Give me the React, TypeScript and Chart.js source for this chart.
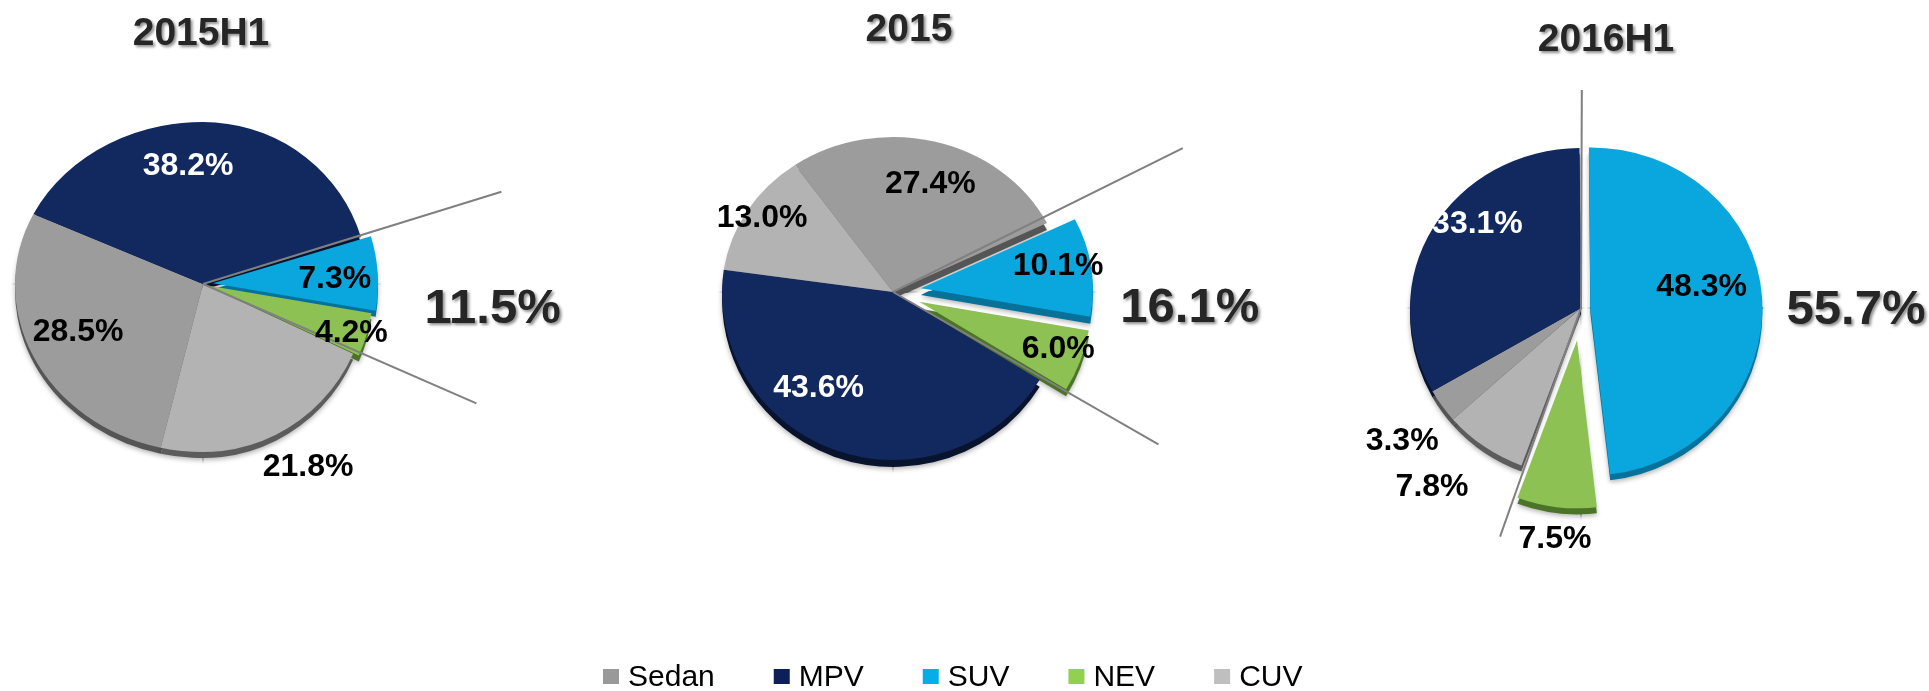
import React, { useEffect, useRef } from 'react';
import { Chart, registerables } from 'chart.js';

Chart.register(...registerables);

// ---------------- data ----------------
const categories = ['Sedan', 'MPV', 'SUV', 'NEV', 'CUV'];
const titles = ['2015H1', '2015', '2016H1'];

const order2015H1 = ['Sedan', 'MPV', 'SUV', 'NEV', 'CUV'];
const values2015H1 = [28.5, 38.2, 7.3, 4.2, 21.8];

const order2015 = ['Sedan', 'SUV', 'NEV', 'MPV', 'CUV'];
const values2015 = [27.4, 10.1, 6.0, 43.6, 13.0];

const order2016H1 = ['SUV', 'NEV', 'CUV', 'Sedan', 'MPV'];
const values2016H1 = [48.3, 7.5, 7.8, 3.3, 33.1];

const highlighted = ['SUV', 'NEV'];
const highlightTotals = [11.5, 16.1, 55.7];

// ---------------- styles ----------------
const sliceColors = ['#9c9c9c', '#12295f', '#0aa7de', '#8dc153', '#b3b3b3'];
const rimColors = ['#555555', '#08132e', '#06729a', '#4c7428', '#5c5c5c'];
const legendColors = ['#999999', '#0c1f5b', '#06aee8', '#92d050', '#bfbfbf'];
const labelColors = ['#000000', '#ffffff', '#000000', '#000000', '#000000'];

const W = 1929;
const H = 691;
const R = 165;
const FONT = '"Liberation Sans", Arial, Helvetica, sans-serif';

type PieStyle = {
  cx: number; cy: number;
  rxL: number; rxR: number; ryT: number; ryB: number;
  rotation: number; depth: number;
  explode: Record<string, number>;
  labelR: Record<string, number>;
  labelShift: Record<string, number>;
  lineR: [number, number]; lineShift: [number, number];
  totalR: number; totalShift: number;
  titleX: number; titleY: number;
};

const pieStyles: PieStyle[] = [
  {
    cx: 203, cy: 284, rxL: 188, rxR: 165, ryT: 162, ryB: 168, rotation: 193, depth: 6,
    explode: { SUV: 10, NEV: 6 },
    labelR: { Sedan: 0.719, MPV: 0.749, SUV: 0.8, NEV: 0.94, CUV: 1.251 },
    labelShift: { Sedan: 3.3, MPV: -10.45, SUV: 0.55, NEV: 0, CUV: -4.35 },
    lineR: [1.896, 1.803], lineShift: [-0.6, -1.3],
    totalR: 1.76, totalShift: 0.3,
    titleX: 201, titleY: 31,
  },
  {
    cx: 893, cy: 292, rxL: 171, rxR: 172, ryT: 155, ryB: 168, rotation: 325, depth: 7,
    explode: { SUV: 27, NEV: 27 },
    labelR: { Sedan: 0.744, SUV: 0.977, NEV: 1.014, MPV: 0.706, CUV: 0.91 },
    labelShift: { Sedan: 2.7, SUV: -2.5, NEV: -2.0, MPV: 18.2, CUV: 1.1 },
    lineR: [1.924, 1.79], lineShift: [-2.4, -1.0],
    totalR: 1.727, totalShift: 0,
    titleX: 909, titleY: 27,
  },
  {
    cx: 1581, cy: 308, rxL: 171, rxR: 172, ryT: 160, ryB: 168, rotation: -0.5, depth: 6,
    explode: { SUV: 9, NEV: 32 },
    labelR: { SUV: 0.716, NEV: 1.37, CUV: 1.367, Sedan: 1.302, MPV: 0.81 },
    labelShift: { SUV: -8.05, NEV: -0.5, CUV: 5.15, Sedan: -0.95, MPV: 11.7 },
    lineR: [1.3625, 1.441], lineShift: [0.7, -1.2],
    totalR: 1.599, totalShift: -10.25,
    titleX: 1606, titleY: 37,
  },
];

const pieOrders = [order2015H1, order2015, order2016H1];
const pieValues = [values2015H1, values2015, values2016H1];

function drawText(
  ctx: CanvasRenderingContext2D, text: string, x: number, yMid: number,
  size: number, weight: string, color: string, shadow: boolean
) {
  ctx.save();
  ctx.font = `${weight} ${size}px ${FONT}`;
  ctx.textAlign = 'center';
  ctx.textBaseline = 'alphabetic';
  if (shadow) {
    ctx.shadowColor = 'rgba(0,0,0,0.45)';
    ctx.shadowBlur = 3;
    ctx.shadowOffsetX = 2;
    ctx.shadowOffsetY = 2;
  }
  ctx.fillStyle = color;
  ctx.fillText(text, x, yMid + size * 0.716 / 2);
  ctx.restore();
}

function makePlugin(idx: number) {
  const st = pieStyles[idx];
  const order = pieOrders[idx];
  const deg = Math.PI / 180;
  return {
    id: 'pieDecor' + idx,
    afterUpdate(chart: any) {
      const meta = chart.getDatasetMeta(0);
      meta.data.forEach((el: any, i: number) => {
        const d = st.explode[order[i]] || 0;
        if (!d || el.__exploded) return;
        const orig = el.draw;
        el.draw = function (ctx: CanvasRenderingContext2D, area: any) {
          const h = (this.startAngle + this.endAngle) / 2;
          ctx.save();
          ctx.translate(Math.cos(h) * d, Math.sin(h) * d);
          orig.call(this, ctx, area);
          ctx.restore();
        };
        el.__exploded = true;
      });
    },
    beforeDatasetsDraw(chart: any) {
      const ctx: CanvasRenderingContext2D = chart.ctx;
      const meta = chart.getDatasetMeta(0);
      const el0 = meta.data[0];
      const cx = el0.x;
      const cy = el0.y;
      const r0 = el0.outerRadius;
      const ix = Math.round(cx);
      const iy = Math.round(cy);
      // 3D-tilted pie: each quadrant around the apex gets its own scale
      const quads = [
        { x0: 0, x1: ix + 1, y0: 0, y1: iy + 1, sx: st.rxL / r0, sy: st.ryT / r0 },
        { x0: ix - 1, x1: W, y0: 0, y1: iy + 1, sx: st.rxR / r0, sy: st.ryT / r0 },
        { x0: 0, x1: ix + 1, y0: iy - 1, y1: H, sx: st.rxL / r0, sy: st.ryB / r0 },
        { x0: ix - 1, x1: W, y0: iy - 1, y1: H, sx: st.rxR / r0, sy: st.ryB / r0 },
      ];
      quads.forEach((q) => {
        ctx.save();
        ctx.beginPath();
        ctx.rect(q.x0, q.y0, q.x1 - q.x0, q.y1 - q.y0);
        ctx.clip();
        ctx.translate(cx, cy);
        ctx.scale(q.sx, q.sy);
        ctx.translate(-cx, -cy);
        // rim (side wall) under each slice
        ctx.save();
        ctx.shadowColor = 'rgba(0,0,0,0.3)';
        ctx.shadowBlur = 5;
        ctx.shadowOffsetY = 2;
        meta.data.forEach((el: any, i: number) => {
          const cat = order[i];
          const d = st.explode[cat] || 0;
          const h = (el.startAngle + el.endAngle) / 2;
          const ox = Math.cos(h) * d;
          const oy = Math.sin(h) * d + st.depth / q.sy;
          ctx.beginPath();
          ctx.moveTo(el.x + ox, el.y + oy);
          ctx.arc(el.x + ox, el.y + oy, el.outerRadius, el.startAngle, el.endAngle);
          ctx.closePath();
          ctx.fillStyle = rimColors[categories.indexOf(cat)];
          ctx.fill();
        });
        ctx.restore();
        meta.controller.draw();
        ctx.restore();
      });
      return false;
    },
    afterDraw(chart: any) {
      const ctx: CanvasRenderingContext2D = chart.ctx;
      const meta = chart.getDatasetMeta(0);
      const values = pieValues[idx];
      const el0 = meta.data[0];
      const cx = el0.x;
      const cy = el0.y;
      const r0 = el0.outerRadius;
      const pt = (a: number, rho: number) => {
        const X = Math.cos(a) * rho;
        const Y = Math.sin(a) * rho;
        return {
          x: cx + X * (X < 0 ? st.rxL : st.rxR) * (r0 / R),
          y: cy + Y * (Y < 0 ? st.ryT : st.ryB) * (r0 / R),
        };
      };

      // bracket lines around highlighted slices
      const hiIdx = order.map((c, i) => (highlighted.includes(c) ? i : -1)).filter((i) => i >= 0);
      const a1 = meta.data[hiIdx[0]].startAngle;
      const a2 = meta.data[hiIdx[hiIdx.length - 1]].endAngle;
      ctx.save();
      ctx.strokeStyle = '#808080';
      ctx.lineWidth = 2;
      [[a1 + st.lineShift[0] * deg, st.lineR[0]], [a2 + st.lineShift[1] * deg, st.lineR[1]]].forEach(([a, r]) => {
        const p = pt(a, r);
        ctx.beginPath();
        ctx.moveTo(cx, cy);
        ctx.lineTo(p.x, p.y);
        ctx.stroke();
      });
      ctx.restore();

      // slice labels
      meta.data.forEach((el: any, i: number) => {
        const cat = order[i];
        const a = (el.startAngle + el.endAngle) / 2 + (st.labelShift[cat] || 0) * deg;
        const p = pt(a, st.labelR[cat]);
        drawText(ctx, values[i].toFixed(1) + '%', p.x, p.y, 32, 'bold',
          labelColors[categories.indexOf(cat)], false);
      });

      // total of highlighted group
      const am = (a1 + a2) / 2 + st.totalShift * deg;
      const p2 = pt(am, st.totalR);
      drawText(ctx, highlightTotals[idx].toFixed(1) + '%', p2.x, p2.y, 49, 'bold', '#262626', true);

      // title
      drawText(ctx, titles[idx], st.titleX, st.titleY, 39, 'bold', '#262626', true);

      // legend (drawn once)
      if (idx === 1) {
        ctx.save();
        ctx.font = `30px ${FONT}`;
        ctx.textAlign = 'left';
        ctx.textBaseline = 'alphabetic';
        let x = 603;
        categories.forEach((c, i) => {
          ctx.fillStyle = legendColors[i];
          ctx.fillRect(x, 669, 16, 15);
          ctx.fillStyle = '#000000';
          ctx.fillText(c, x + 25, 686);
          x += 25 + ctx.measureText(c).width + 59;
        });
        ctx.restore();
      }
    },
  };
}

function PieCanvas({ idx }: { idx: number }) {
  const ref = useRef<HTMLCanvasElement | null>(null);
  useEffect(() => {
    const st = pieStyles[idx];
    const order = pieOrders[idx];
    const half = 180;
    const chart = new Chart(ref.current as HTMLCanvasElement, {
      type: 'pie',
      data: {
        labels: order,
        datasets: [
          {
            data: pieValues[idx],
            backgroundColor: order.map((c) => sliceColors[categories.indexOf(c)]),
            borderWidth: 0,
            radius: R,
            clip: false,
          } as any,
        ],
      },
      options: {
        responsive: false,
        animation: false,
        events: [],
        rotation: st.rotation,
        layout: {
          padding: {
            left: st.cx - half,
            right: W - st.cx - half,
            top: st.cy - half,
            bottom: H - st.cy - half,
          },
        },
        plugins: {
          legend: { display: false },
          tooltip: { enabled: false },
          title: { display: false },
        },
      } as any,
      plugins: [makePlugin(idx) as any],
    });
    return () => chart.destroy();
  }, [idx]);
  return (
    <canvas
      ref={ref}
      width={W}
      height={H}
      style={{ position: 'absolute', left: 0, top: 0, width: W, height: H }}
    />
  );
}

export default function App() {
  return (
    <div style={{ position: 'absolute', left: 0, top: 0, width: W, height: H, background: '#ffffff', overflow: 'hidden' }}>
      <PieCanvas idx={0} />
      <PieCanvas idx={1} />
      <PieCanvas idx={2} />
    </div>
  );
}
